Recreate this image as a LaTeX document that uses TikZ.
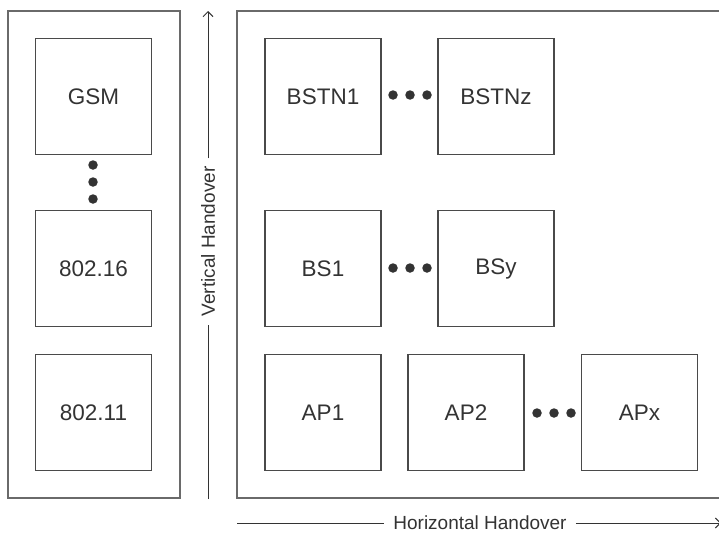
\documentclass[tikz,border=0pt]{standalone}
\usepackage{fontspec}
\setmainfont{Liberation Sans}
\usetikzlibrary{arrows.meta}
\definecolor{ink}{HTML}{333333}
\definecolor{frame}{HTML}{4A4A4A}
\definecolor{outer}{HTML}{6A6A6A}
\begin{document}
\begin{tikzpicture}[x=1pt,y=-1pt,
  netbox/.style={draw=frame,line width=1.2pt,minimum width=116pt,minimum height=116pt,
    inner sep=0pt,text=ink,font=\fontsize{22.5}{27}\selectfont},
  group/.style={draw=outer,line width=1.2pt},
  dot/.style={circle,fill=ink,inner sep=0pt,minimum size=9.5pt},
  handlabel/.style={fill=white,text=ink,inner xsep=8pt,inner ysep=2pt,font=\fontsize{19}{23}\selectfont},
  handline/.style={draw=ink,line width=1pt}]
\useasboundingbox (0,0) rectangle (719,533);

% technology column and network area
\draw[group] (8,11) rectangle (180,498);
\draw[group] (760,11) -- (237,11) -- (237,498) -- (760,498);

% access technologies
\node[netbox] (gsm)   at (93.5,96.5)  {GSM};
\node[netbox] (w16)   at (93.5,268.5) {802.16};
\node[netbox] (w11)   at (93.5,412.5) {802.11};
\node[dot] (vd1) at (93,165) {};
\node[dot] (vd2) at (93,182) {};
\node[dot] (vd3) at (93,199) {};

% base stations and access points
\node[netbox] (bstn1) at (323,96.5)  {BSTN1};
\node[netbox] (bstnz) at (496,96.5)  {BSTNz};
\node[netbox] (bs1)   at (323,268.5) {BS1};
\node[netbox] (bsy)   at (496,268.5) {BSy};
\node[netbox] (ap1)   at (323,412.5) {AP1};
\node[netbox] (ap2)   at (466,412.5) {AP2};
\node[netbox] (apx)   at (639.5,412.5) {APx};

\foreach \y/\n in {95/a,268/b}{
  \node[dot] (d\n1) at (393,\y) {};
  \node[dot] (d\n2) at (410,\y) {};
  \node[dot] (d\n3) at (427,\y) {};
}
\node[dot] (dc1) at (537,413) {};
\node[dot] (dc2) at (554,413) {};
\node[dot] (dc3) at (571,413) {};

% handover axes
\coordinate (vbot) at (208,499);
\coordinate (vtop) at (208,11);
\node[handlabel,rotate=90] (vlab) at (208,241.5) {Vertical Handover\hspace{7pt}};
\draw[handline] (vbot) -- (vlab.west);
\draw[handline,-{Straight Barb[length=5pt,width=10pt]}] (vlab.east) -- (vtop);

\coordinate (hleft) at (237,523);
\coordinate (hright) at (721,523);
\node[handlabel,inner xsep=9pt] (hlab) at (480,523) {Horizontal Handover\hspace{13pt}};
\draw[handline] (hleft) -- (hlab.west);
\draw[handline,-{Straight Barb[length=5pt,width=10pt]}] (hlab.east) -- (hright);
\end{tikzpicture}
\end{document}
